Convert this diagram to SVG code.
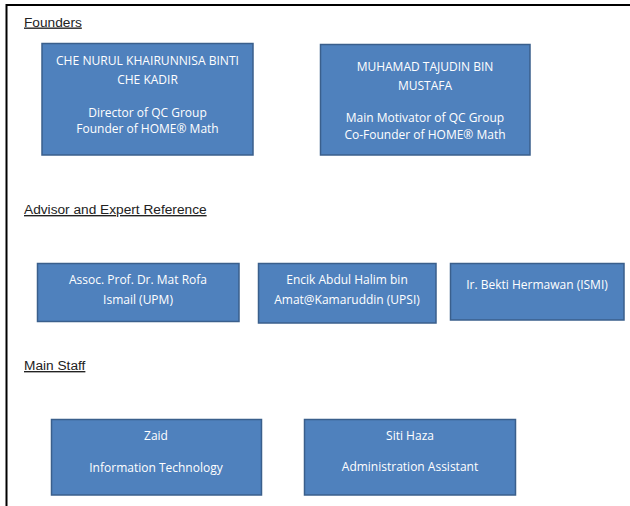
<svg xmlns="http://www.w3.org/2000/svg" width="630" height="506" viewBox="0 0 630 506">
<style>
.box{fill:#4F81BD;stroke:#3A5F8C;stroke-width:1.5}
.t{font-family:"Open Sans","Noto Sans",sans-serif;font-size:12px;fill:#FFFFFF;text-anchor:middle}
.h{font-family:"Liberation Sans",Arial,sans-serif;font-size:13.7px;fill:#222222;text-decoration:underline}
</style>
<rect width="630" height="506" fill="#FFFFFF"/>
<path d="M6.5 506 V5 H630" fill="none" stroke="#000000" stroke-width="2"/>
<text class="h" x="24" y="26.5">Founders</text>
<text class="h" x="24" y="214">Advisor and Expert Reference</text>
<text class="h" x="24" y="370">Main Staff</text>
<g id="founder1">
<rect class="box" x="42" y="43.5" width="211" height="111.5"/>
<text class="t" x="147.5" y="65" textLength="183" lengthAdjust="spacingAndGlyphs">CHE NURUL KHAIRUNNISA BINTI</text>
<text class="t" x="147.5" y="84">CHE KADIR</text>
<text class="t" x="147.5" y="117">Director of QC Group</text>
<text class="t" x="147.5" y="133">Founder of HOME® Math</text>
</g>
<g id="founder2">
<rect class="box" x="320.5" y="44.5" width="209.5" height="110.5"/>
<text class="t" x="425" y="71">MUHAMAD TAJUDIN BIN</text>
<text class="t" x="425" y="90">MUSTAFA</text>
<text class="t" x="425" y="122">Main Motivator of QC Group</text>
<text class="t" x="425" y="139">Co-Founder of HOME® Math</text>
</g>
<g id="advisor1">
<rect class="box" x="37.5" y="263.5" width="201.5" height="58"/>
<text class="t" x="138" y="283.5">Assoc. Prof. Dr. Mat Rofa</text>
<text class="t" x="138" y="303.5">Ismail (UPM)</text>
</g>
<g id="advisor2">
<rect class="box" x="258.5" y="263.5" width="177.5" height="59.5"/>
<text class="t" x="347" y="283.5">Encik Abdul Halim bin</text>
<text class="t" x="347" y="304">Amat@Kamaruddin (UPSI)</text>
</g>
<g id="advisor3">
<rect class="box" x="450.5" y="263.5" width="173.5" height="56.5"/>
<text class="t" x="537" y="289">Ir. Bekti Hermawan (ISMI)</text>
</g>
<g id="staff1">
<rect class="box" x="51.5" y="419.5" width="210" height="75.5"/>
<text class="t" x="156" y="440">Zaid</text>
<text class="t" x="156" y="472">Information Technology</text>
</g>
<g id="staff2">
<rect class="box" x="304.5" y="419.5" width="211" height="75.5"/>
<text class="t" x="410" y="439.5">Siti Haza</text>
<text class="t" x="410" y="471">Administration Assistant</text>
</g>
<g id="connectors"></g>
</svg>
